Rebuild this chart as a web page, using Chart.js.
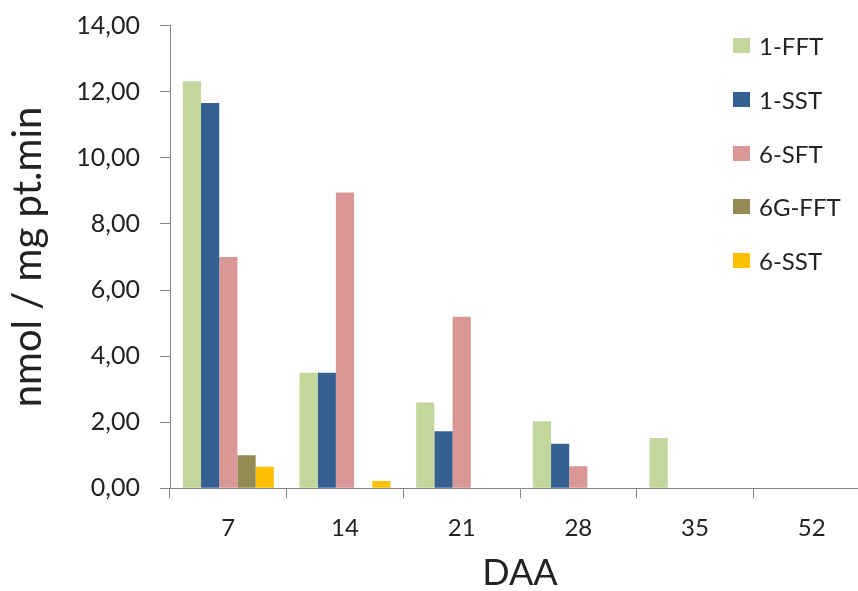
<!DOCTYPE html>
<html>
<head>
<meta charset="utf-8">
<script src="https://cdn.jsdelivr.net/npm/chart.js@4.4.1/dist/chart.umd.min.js"></script>
<style>
  html, body { margin: 0; padding: 0; background: #fff; overflow: hidden; }
  #wrap { position: relative; width: 858px; height: 591px; overflow: hidden; }
  #legend { position: absolute; left: 733px; top: 19px; font-family: Lato, sans-serif; font-size: 24px; color: #222; }
  .item { display: flex; align-items: center; height: 53.7px; }
  .box { width: 17px; height: 15px; margin-right: 9px; }
</style>
</head>
<body>
<div id="wrap">
  <canvas id="chart" width="870" height="591"></canvas>
  <div id="legend"></div>
</div>
<script>
const days = ['7', '14', '21', '28', '35', '52'];
const fft1 = [12.32, 3.50, 2.60, 2.03, 1.52, null];
const sst1 = [11.66, 3.50, 1.73, 1.35, null, null];
const sft6 = [7.00, 8.95, 5.19, 0.67, null, null];
const gfft6 = [1.00, null, null, null, null, null];
const sst6 = [0.65, 0.22, null, null, null, null];

const seriesNames = ['1-FFT', '1-SST', '6-SFT', '6G-FFT', '6-SST'];
const seriesColors = ['#C3D69B', '#376092', '#D99795', '#948A54', '#FFC000'];
const seriesData = [fft1, sst1, sft6, gfft6, sst6];

const axisColor = '#868686';
const textColor = '#222';

let datasets = seriesNames.map((name, i) => ({
    label: name,
    data: seriesData[i],
    backgroundColor: seriesColors[i],
    borderWidth: 0,
    categoryPercentage: 0.78,
    barPercentage: 1
}));

let ctx = document.getElementById('chart').getContext('2d');
let myChart = new Chart(ctx, {
    type: 'bar',
    data: { labels: days, datasets: datasets },
    options: {
        responsive: false,
        animation: false,
        layout: { padding: { top: 25.7, right: 0, bottom: 0, left: 0 } },
        plugins: { legend: { display: false }, tooltip: { enabled: false } },
        scales: {
            x: {
                afterFit: scale => { scale.height = 102.7; scale.paddingLeft = 0; scale.paddingRight = 0; },
                grid: { drawOnChartArea: false, drawTicks: true, tickLength: 10, color: axisColor, offset: true },
                border: { color: axisColor, width: 1 },
                ticks: { color: textColor, padding: 16, font: { family: 'Lato', size: 24 } },
                title: {
                    display: true, text: 'DAA', color: textColor,
                    font: { family: 'Lato', size: 36, lineHeight: 1 },
                    padding: { top: 0, bottom: 0 }
                }
            },
            y: {
                min: 0,
                max: 14,
                afterFit: scale => { scale.width = 170; scale.paddingTop = 0; scale.paddingBottom = 0; },
                grid: { drawOnChartArea: false, drawTicks: true, tickLength: 10, color: axisColor },
                border: { color: axisColor, width: 1 },
                ticks: {
                    stepSize: 2,
                    color: textColor,
                    padding: 20,
                    font: { family: 'Lato', size: 25 },
                    callback: value => value.toFixed(2).replace('.', ',')
                },
                title: {
                    display: true, text: 'nmol / mg pt.min', color: textColor,
                    font: { family: 'Lato', size: 40, lineHeight: 1 },
                    padding: { top: 8, bottom: 0 }
                }
            }
        }
    }
});

// legend drawn as html so it can sit over the plot area like the original
let legendEl = document.getElementById('legend');
seriesNames.forEach((name, i) => {
    let item = document.createElement('div');
    item.className = 'item';
    item.innerHTML = `<span class="box" style="background:${seriesColors[i]}"></span><span>${name}</span>`;
    legendEl.appendChild(item);
});
</script>
</body>
</html>
